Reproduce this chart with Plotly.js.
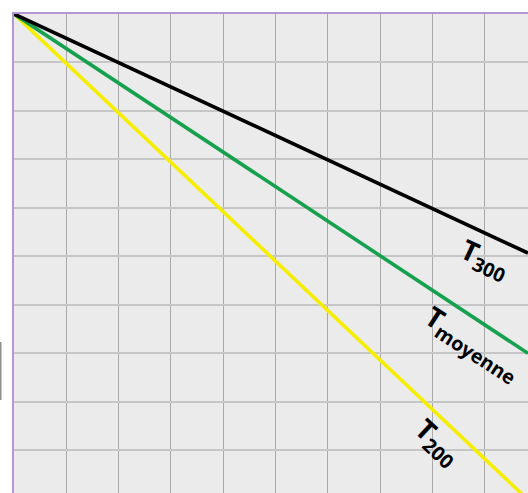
<!DOCTYPE html>
<html>
<head>
<meta charset="utf-8">
<script src="https://cdn.plot.ly/plotly-3.0.1.min.js"></script>
<style>
  html, body { margin: 0; padding: 0; background: #ffffff; }
  #chart { width: 528px; height: 493px; }
</style>
</head>
<body>
<div id="chart"></div>
<script>
// grid units: 1 column = 1 unit along x, 1 row = 1 unit down along y
const xPoints = [0, 9.83];
const t300 = [0, -4.93];
const tMoyenne = [0, -7.0];
const t200 = [0, -10.02];

const labels = ['T<sub>300</sub>', 'T<sub>moyenne</sub>', 'T<sub>200</sub>'];
const labelX = [9.0, 8.78, 8.1];
const labelY = [-5.05, -6.8, -8.82];
const labelAngle = [25, 33, 43];

function makeLine(y, color) {
    return {
        x: xPoints,
        y: y,
        mode: 'lines',
        line: { color: color, width: 3.6 },
        hoverinfo: 'skip',
        showlegend: false
    };
}

const data = [
    makeLine(t200, '#f6ee00'),
    makeLine(tMoyenne, '#17a04e'),
    makeLine(t300, '#000000')
];

const annotations = labels.map((text, i) => ({
    x: labelX[i],
    y: labelY[i],
    xref: 'x',
    yref: 'y',
    text: text,
    textangle: labelAngle[i],
    showarrow: false,
    font: { family: 'Open Sans, Liberation Sans, sans-serif', size: 28, color: '#000000', weight: 'bold' }
}));

const layout = {
    width: 528,
    height: 493,
    margin: { l: 14, r: 0, t: 14, b: 0 },
    paper_bgcolor: '#ffffff',
    plot_bgcolor: '#ebebeb',
    xaxis: {
        range: [0, 9.83],
        side: 'top',
        tick0: 0,
        dtick: 1,
        showticklabels: false,
        ticks: '',
        showgrid: true,
        gridcolor: '#a9a9a9',
        gridwidth: 1,
        zeroline: false,
        showline: true,
        linecolor: '#b595d6',
        linewidth: 2,
        fixedrange: true
    },
    yaxis: {
        range: [-9.88, 0],
        tick0: 0,
        dtick: 1,
        showticklabels: false,
        ticks: '',
        showgrid: true,
        gridcolor: '#c6c6c6',
        gridwidth: 2,
        zeroline: false,
        showline: true,
        linecolor: '#b595d6',
        linewidth: 2,
        fixedrange: true
    },
    shapes: [{
        type: 'rect',
        xref: 'paper',
        yref: 'paper',
        x0: -14 / 514,
        x1: -12.5 / 514,
        y0: 93 / 479,
        y1: 151 / 479,
        fillcolor: '#8f8f8f',
        line: { width: 0 }
    }],
    annotations: annotations
};

Plotly.newPlot('chart', data, layout, { displayModeBar: false, staticPlot: true });
</script>
</body>
</html>
